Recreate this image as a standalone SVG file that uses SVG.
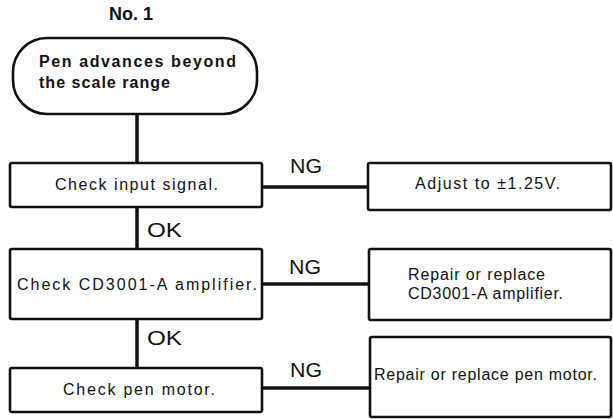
<svg xmlns="http://www.w3.org/2000/svg" width="613" height="419" viewBox="0 0 613 419">
<style>
.box{fill:#fff;stroke:#111;stroke-width:2.6}
.conn{stroke:#111;stroke-width:3.5;fill:none}
.t{font-family:"Liberation Sans",Arial,sans-serif;font-size:16px;fill:#111}
.b{font-family:"Liberation Sans",Arial,sans-serif;font-size:16px;font-weight:bold;fill:#111}
.lbl{font-family:"Liberation Sans",Arial,sans-serif;font-size:20px;fill:#111}
</style>
<rect width="613" height="419" fill="#fff"/>
<text class="b" x="131" y="20" text-anchor="middle" style="font-size:18px">No. 1</text>
<g id="connectors">
<line class="conn" x1="137" y1="114" x2="137" y2="163"/>
<line class="conn" x1="137" y1="207" x2="137" y2="249"/>
<line class="conn" x1="137" y1="319" x2="137" y2="368"/>
<line class="conn" x1="262" y1="187" x2="368" y2="187"/>
<line class="conn" x1="262" y1="284" x2="369" y2="284"/>
<line class="conn" x1="262" y1="388" x2="370" y2="388"/>
<text class="lbl" x="290" y="173" textLength="32" lengthAdjust="spacingAndGlyphs">NG</text>
<text class="lbl" x="289" y="274" textLength="32" lengthAdjust="spacingAndGlyphs">NG</text>
<text class="lbl" x="290" y="377" textLength="32" lengthAdjust="spacingAndGlyphs">NG</text>
<text class="lbl" x="147" y="237" textLength="35" lengthAdjust="spacingAndGlyphs">OK</text>
<text class="lbl" x="147" y="345" textLength="35" lengthAdjust="spacingAndGlyphs">OK</text>
</g>
<g id="start">
<rect class="box" x="13" y="38" width="244" height="76" rx="34" ry="34"/>
<text class="b" x="39" y="67" textLength="197" lengthAdjust="spacing">Pen advances beyond</text>
<text class="b" x="39" y="88" textLength="131" lengthAdjust="spacing">the scale range</text>
</g>
<g id="check-input">
<rect class="box" x="10" y="163" width="252" height="44" rx="2"/>
<text class="t" x="55" y="190" textLength="163" lengthAdjust="spacing">Check input signal.</text>
</g>
<g id="adjust">
<rect class="box" x="368" y="163" width="243" height="47" rx="2"/>
<text class="t" x="415" y="189" textLength="145" lengthAdjust="spacing">Adjust to ±1.25V.</text>
</g>
<g id="check-amp">
<rect class="box" x="10" y="249" width="252" height="70" rx="2"/>
<text class="t" x="17" y="290" textLength="240" lengthAdjust="spacing">Check CD3001-A amplifier.</text>
</g>
<g id="repair-amp">
<rect class="box" x="369" y="249" width="242" height="71" rx="2"/>
<text class="t" x="408" y="280" textLength="137" lengthAdjust="spacing">Repair or replace</text>
<text class="t" x="408" y="299" textLength="155" lengthAdjust="spacing">CD3001-A amplifier.</text>
</g>
<g id="check-motor">
<rect class="box" x="10" y="368" width="252" height="44" rx="2"/>
<text class="t" x="63" y="395" textLength="152" lengthAdjust="spacing">Check pen motor.</text>
</g>
<g id="repair-motor">
<rect class="box" x="370" y="337" width="241" height="80" rx="2"/>
<text class="t" x="374" y="380" textLength="223" lengthAdjust="spacing">Repair or replace pen motor.</text>
</g>
</svg>
